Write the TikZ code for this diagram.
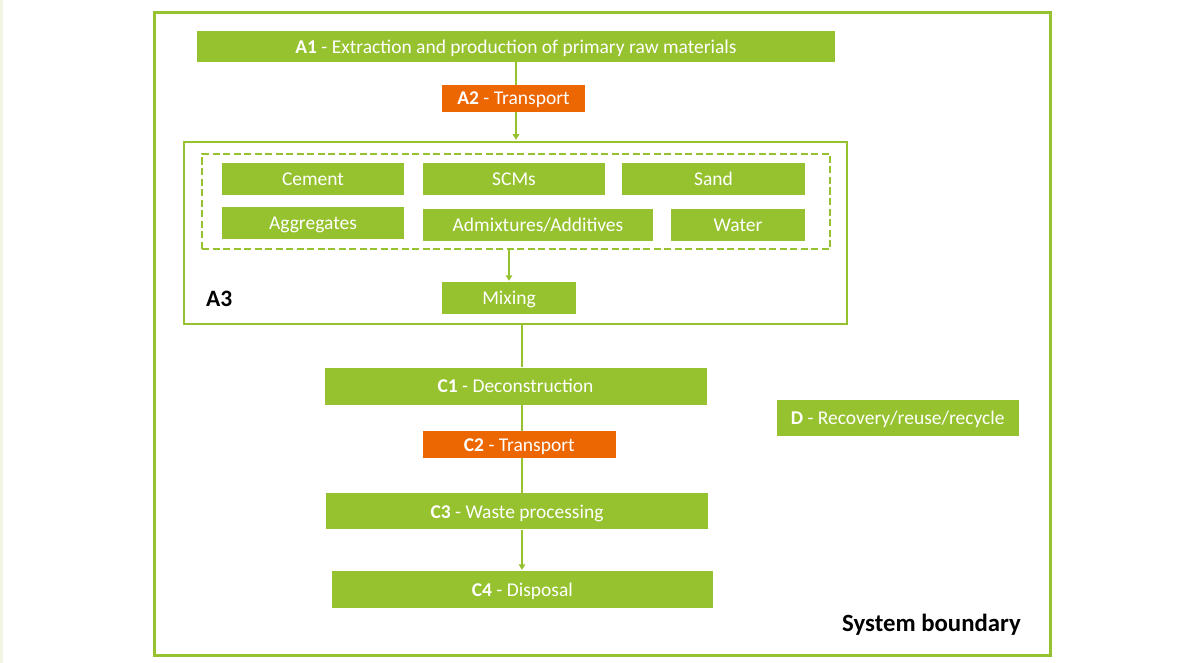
\documentclass[tikz,border=0pt]{standalone}
\usepackage{fontspec}
\setmainfont{Carlito}
\usetikzlibrary{arrows.meta}
\definecolor{lg}{HTML}{96C22F}
\definecolor{og}{HTML}{EC6602}
\definecolor{stripc}{HTML}{F1F6E3}
\begin{document}
\begin{tikzpicture}[x=1pt,y=-1pt,
  gbox/.style={fill=lg,text=white,inner sep=0pt,anchor=center,text height=13.4pt,text depth=0pt,font=\fontsize{19.5}{22}\selectfont},
  obox/.style={gbox,fill=og},
  frame/.style={draw=lg,inner sep=0pt},
  conn/.style={draw=lg,line width=1.6pt},
  arr/.style={conn,-{Triangle[width=6.5pt,length=5.5pt]},shorten >=1pt},
  lbl/.style={inner sep=0pt,text=black}
  ]
\useasboundingbox (0,0) rectangle (1198,663);
\fill[stripc] (0,0) rectangle (3,663);
\node[frame,line width=3pt,minimum width=896pt,minimum height=642pt] (sys) at (602,334) {};
\node[gbox,minimum width=638pt,minimum height=31pt] (A1) at (516,46.5) {\textbf{A1} - Extraction and production of primary raw materials};
\node[frame,line width=2.5pt,minimum width=663pt,minimum height=182pt] (A3) at (515.5,233) {};
\node[frame,line width=2.5pt,dash pattern=on 7pt off 3.5pt,minimum width=628pt,minimum height=95pt] (grp) at (516,201.5) {};
\node[gbox,minimum width=182pt,minimum height=32pt] (cem) at (313,179) {Cement};
\node[gbox,minimum width=182pt,minimum height=32pt] (scm) at (514,179) {SCMs};
\node[gbox,minimum width=183pt,minimum height=32pt] (sand) at (713.5,179) {Sand};
\node[gbox,minimum width=182pt,minimum height=32pt] (agg) at (313,223) {Aggregates};
\node[gbox,minimum width=230pt,minimum height=32pt] (adm) at (538,224.7) {Admixtures/Additives};
\node[gbox,minimum width=134pt,minimum height=32pt] (wat) at (738,224.7) {Water};
\node[gbox,minimum width=134pt,minimum height=32pt] (mix) at (509,298) {Mixing};
\node[lbl,anchor=base west,font=\fontsize{23.5}{26}\selectfont\bfseries] (a3lbl) at (206,306.5) {A3};
\node[gbox,minimum width=382pt,minimum height=37pt] (C1) at (515.5,386) {\textbf{C1} - Deconstruction};
\node[gbox,minimum width=382pt,minimum height=36pt] (C3) at (517,511.3) {\textbf{C3} - Waste processing};
\node[gbox,minimum width=381pt,minimum height=36.7pt] (C4) at (522.4,589.4) {\textbf{C4} - Disposal};
\node[gbox,minimum width=242pt,minimum height=36pt] (D) at (897.7,418) {\textbf{D} - Recovery/reuse/recycle};
\node[lbl,anchor=base east,font=\fontsize{24.8}{28}\selectfont\bfseries] (sb) at (1021,631) {System boundary};
\coordinate (cx) at (522,0);
\draw[arr] (A1.south) -- (A1.south |- A3.north);
\draw[arr] (mix.north |- grp.south) -- (mix.north);
\draw[conn] (A3.south -| cx) -- (C1.north -| cx);
\draw[conn] (C1.south -| cx) -- (C3.north -| cx);
\draw[arr] (C3.south -| cx) -- (C4.north -| cx);
\node[obox,minimum width=143pt,minimum height=26.7pt] (A2) at (513.5,98.3) {\textbf{A2} - Transport};
\node[obox,minimum width=193.3pt,minimum height=27.3pt] (C2) at (519.3,444.7) {\textbf{C2} - Transport};
\end{tikzpicture}
\end{document}
